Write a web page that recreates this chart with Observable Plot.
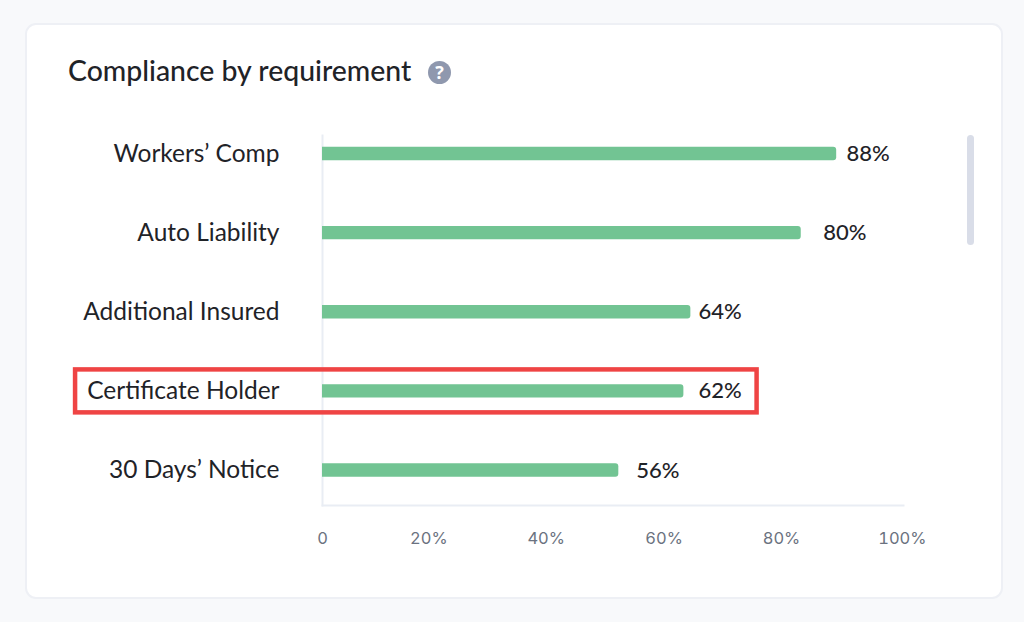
<!DOCTYPE html>
<html>
<head>
<meta charset="utf-8">
<script src="https://cdn.jsdelivr.net/npm/d3@7"></script>
<script src="https://cdn.jsdelivr.net/npm/@observablehq/plot@0.6"></script>
<style>
  html, body { margin: 0; padding: 0; width: 1024px; height: 622px; overflow: hidden; background: #f8f9fb; }
  #card { position: absolute; left: 25px; top: 23px; width: 974px; height: 572px; background: #fff; border: 2px solid #eef0f5; border-radius: 11px; }
  #title { position: absolute; left: 68px; top: 52px; font: 500 28.4px/36px Lato, sans-serif; color: #1f2328; white-space: nowrap; }
  #help { position: absolute; left: 428px; top: 61px; width: 23px; height: 23px; border-radius: 50%; background: #8f98ae; color: #fff; font: 700 18px/23px "Open Sans", sans-serif; text-align: center; }
  #scroll { position: absolute; left: 967px; top: 135px; width: 7px; height: 110px; border-radius: 3.5px; background: #d9dde8; }
  #chart { position: absolute; left: 0; top: 0; }
  #chart svg { background: transparent; display: block; }
</style>
</head>
<body>
<div id="card"></div>
<div id="title">Compliance by requirement</div>
<div id="help">?</div>
<div id="chart"></div>
<div id="scroll"></div>
<script>
const categories = ["Workers’ Comp", "Auto Liability", "Additional Insured", "Certificate Holder", "30 Days’ Notice"];
const barValues = [88.5, 82.4, 63.4, 62.2, 51];
const valueLabels = ["88%", "80%", "64%", "62%", "56%"];
const valueLabelAt = [90.2, 86.2, 64.7, 64.7, 54];
const tickAt = [0, 18.3, 38.5, 58.8, 79, 99.8];
const tickLabels = ["0", "20%", "40%", "60%", "80%", "100%"];
const highlight = {category: "Certificate Holder", from: -42.5, to: 74.8};

const rows = categories.map((c, i) => ({c, v: barValues[i], label: valueLabels[i], at: valueLabelAt[i]}));

const chart = Plot.plot({
  width: 1024,
  height: 622,
  marginLeft: 322,
  marginRight: 121,
  marginTop: 135,
  marginBottom: 117,
  style: {background: "transparent"},
  x: {domain: [0, 100], range: [322, 903]},
  y: {type: "band", domain: categories, range: [146.75, 476.75], paddingInner: 0.83, paddingOuter: 0, align: 0.5, round: false},
  marks: [
    Plot.frame({anchor: "left", stroke: "#e9edf4", strokeWidth: 2}),
    Plot.frame({anchor: "bottom", stroke: "#e9edf4", strokeWidth: 2}),
    Plot.axisY({tickSize: 0, tickPadding: 43, fontSize: 24.5, fontFamily: "Lato, sans-serif", fill: "#1f2328", label: null}),
    Plot.axisX({ticks: tickAt, tickSize: 0, tickPadding: 27, fontSize: 16.5, fontFamily: "Inter, sans-serif", fill: "#6b7280", label: null,
      tickFormat: d => tickLabels[tickAt.indexOf(d)]}),
    Plot.barX(rows, {y: "c", x1: 0, x2: "v", fill: "#72c493", rx2: 3}),
    Plot.text(rows, {y: "c", x: "at", text: "label", textAnchor: "start", fontSize: 22, fontWeight: 500, fontFamily: "Lato, sans-serif", fill: "#1f2328"}),
    Plot.barX([highlight], {y: "category", x1: "from", x2: "to", fill: "none", stroke: "#ef4444", strokeWidth: 4.5, insetTop: -14.75, insetBottom: -14.75})
  ]
});
document.getElementById("chart").append(chart);
</script>
</body>
</html>
